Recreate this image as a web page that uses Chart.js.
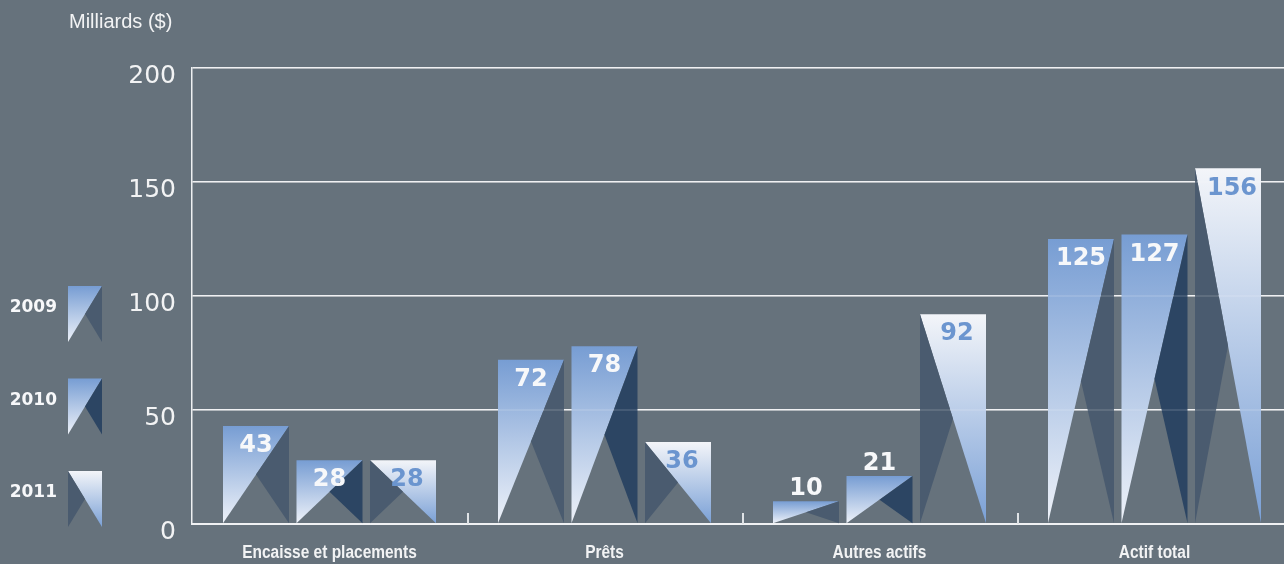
<!DOCTYPE html>
<html><head><meta charset="utf-8">
<script src="https://cdn.jsdelivr.net/npm/chart.js@4.4.1/dist/chart.umd.min.js"></script>
<style>
html,body{margin:0;padding:0;background:#66727c;overflow:hidden;width:1284px;height:564px}
#wrap{width:1300px;height:564px}
canvas{display:block}
</style></head>
<body><div id="wrap"><canvas id="c" width="1300" height="564"></canvas></div>
<script>
const categories = ['Encaisse et placements', 'Prêts', 'Autres actifs', 'Actif total'];
const seriesNames = ['2009', '2010', '2011'];
const values2009 = [43, 72, 10, 125];
const values2010 = [28, 78, 21, 127];
const values2011 = [28, 36, 92, 156];
const yTickValues = [0, 50, 100, 150, 200];
const axisTitle = 'Milliards ($)';

const BLUE = '#779dd3';
const PALE = '#eef2f9';
const DARK = ['#4a5b6f', '#2c4563', '#4a5b6f'];
const LABEL_COL = ['#f7f8fa', '#f7f8fa', '#6b95cf'];

function tri(ctx, pts, fill) {
  ctx.beginPath();
  ctx.moveTo(pts[0][0], pts[0][1]);
  ctx.lineTo(pts[1][0], pts[1][1]);
  ctx.lineTo(pts[2][0], pts[2][1]);
  ctx.closePath();
  ctx.fillStyle = fill;
  ctx.fill();
}
function drawShape(ctx, L, R, T, B, s) {
  const cx = (L + R) / 2, cy = (T + B) / 2;
  const g = ctx.createLinearGradient(0, T, 0, B);
  if (s < 2) {
    g.addColorStop(0, BLUE); g.addColorStop(1, PALE);
    tri(ctx, [[L, T], [R, T], [L, B]], g);
    tri(ctx, [[R, T], [R, B], [cx, cy]], DARK[s]);
  } else {
    g.addColorStop(0, '#f3f5f9'); g.addColorStop(1, '#7aa0d6');
    tri(ctx, [[L, T], [R, T], [R, B]], g);
    tri(ctx, [[L, T], [cx, cy], [L, B]], DARK[s]);
  }
}

const triPlugin = {
  id: 'triBars',
  afterDatasetsDraw(chart) {
    const ctx = chart.ctx;
    const area = chart.chartArea;
    const yS = chart.scales.y, xS = chart.scales.x;
    ctx.save();
    chart.data.datasets.forEach((ds, s) => {
      const meta = chart.getDatasetMeta(s);
      meta.data.forEach((bar) => {
        const L = bar.x - bar.width / 2, R = bar.x + bar.width / 2;
        drawShape(ctx, L, R, bar.y, bar.base, s);
      });
    });
    // faint gridlines visible through bars
    ctx.strokeStyle = 'rgba(255,255,255,0.16)';
    ctx.lineWidth = 1.5;
    yTickValues.forEach(v => {
      const y = yS.getPixelForValue(v);
      ctx.beginPath(); ctx.moveTo(area.left, y); ctx.lineTo(area.right, y); ctx.stroke();
    });
    // data labels
    ctx.font = 'bold 24px "DejaVu Sans", sans-serif';
    ctx.textAlign = 'center';
    ctx.textBaseline = 'middle';
    chart.data.datasets.forEach((ds, s) => {
      const meta = chart.getDatasetMeta(s);
      meta.data.forEach((bar, i) => {
        const h = bar.base - bar.y;
        const inside = h > 55;
        const x = bar.x + (s === 2 ? 4 : 0);
        const y = inside ? bar.y + 20 : bar.y - 12;
        ctx.fillStyle = inside ? LABEL_COL[s] : '#f7f8fa';
        ctx.fillText(String(ds.data[i]), x, y);
      });
    });
    // category separator ticks
    ctx.strokeStyle = '#dfe3e6';
    ctx.lineWidth = 2;
    for (let i = 1; i < categories.length; i++) {
      const x = Math.round((xS.getPixelForValue(i - 1) + xS.getPixelForValue(i)) / 2) + 1;
      ctx.beginPath(); ctx.moveTo(x, area.bottom - 11); ctx.lineTo(x, area.bottom); ctx.stroke();
    }
    ctx.restore();
  },
  afterDraw(chart) {
    const ctx = chart.ctx;
    const xS = chart.scales.x;
    ctx.save();
    // category labels (condensed bold)
    ctx.font = 'bold 18px "Liberation Sans", Arial, sans-serif';
    ctx.fillStyle = '#f2f3f4';
    ctx.textAlign = 'center';
    ctx.textBaseline = 'alphabetic';
    categories.forEach((c, i) => {
      const x = xS.getPixelForValue(i);
      ctx.save();
      ctx.translate(x, 558);
      ctx.scale(0.86, 1);
      ctx.fillText(c, 0, 0);
      ctx.restore();
    });
    // axis title
    ctx.font = '20px "Liberation Sans", Arial, sans-serif';
    ctx.fillStyle = '#f2f3f4';
    ctx.textAlign = 'left';
    ctx.textBaseline = 'middle';
    ctx.fillText(axisTitle, 69, 22);
    // legend
    seriesNames.forEach((name, s) => {
      const top = 286 + s * 92.5;
      drawShape(ctx, 68, 102, top, top + 56, s);
      ctx.font = 'bold 17px "DejaVu Sans", sans-serif';
      ctx.fillStyle = '#f7f8fa';
      ctx.textAlign = 'right';
      ctx.textBaseline = 'middle';
      ctx.fillText(name, 57, top + 22);
    });
    ctx.restore();
  }
};

const seriesValues = [values2009, values2010, values2011];

new Chart(document.getElementById('c'), {
  type: 'bar',
  data: {
    labels: categories,
    datasets: seriesNames.map((n, s) => ({
      label: n,
      data: seriesValues[s],
      backgroundColor: 'rgba(0,0,0,0)',
      borderWidth: 0,
      categoryPercentage: 0.802,
      barPercentage: 0.898
    }))
  },
  options: {
    responsive: false,
    animation: false,
    layout: { padding: { top: 68, right: 8, left: 0, bottom: 0 } },
    plugins: { legend: { display: false }, tooltip: { enabled: false } },
    scales: {
      y: {
        min: 0, max: 200,
        afterFit(scale) { scale.width = 192; },
        afterBuildTicks(scale) { scale.ticks = yTickValues.map(v => ({ value: v })); },
        ticks: {
          color: '#f2f3f4',
          font: { family: '"DejaVu Sans", sans-serif', size: 25 },
          padding: 16,
          labelOffset: 8
        },
        grid: { color: '#eef0f2', lineWidth: 1.5, drawTicks: false },
        border: { display: true, color: '#eef0f2', width: 1.5 }
      },
      x: {
        afterFit(scale) { scale.height = 40; },
        ticks: { display: false },
        grid: { display: false },
        border: { display: true, color: '#eef0f2', width: 2 }
      }
    }
  },
  plugins: [triPlugin]
});
</script>
</body></html>
